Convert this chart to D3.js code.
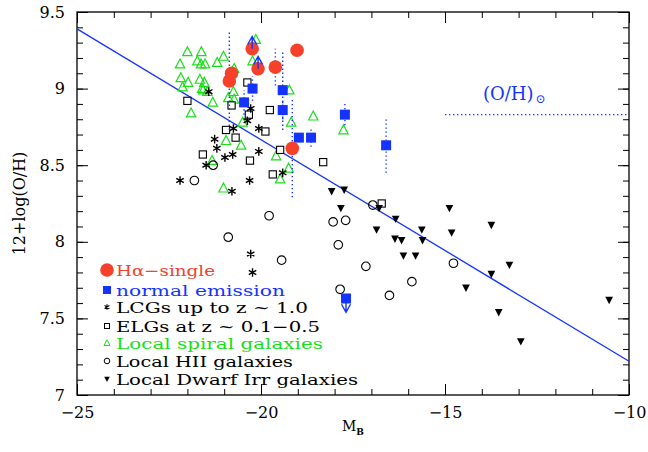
<!DOCTYPE html>
<html>
<head>
<meta charset="utf-8">
<script src="https://cdn.jsdelivr.net/npm/d3@7"></script>
<style>
  body { margin: 0; background: #fff; }
  text { font-family: "DejaVu Serif", serif; }
</style>
</head>
<body>
<div id="chart"></div>
<script>
// ---- data: [M_B, 12+log(O/H)] per sample ----
const haSingle = [[-20.24, 9.26], [-19.02, 9.25], [-20.08, 9.13], [-19.61, 9.14],
  [-20.80, 9.10], [-20.86, 9.05], [-19.15, 8.61]];
const normalEm = [[-20.23, 9.00], [-20.46, 8.91], [-19.41, 8.99], [-19.41, 8.86],
  [-18.97, 8.68], [-18.64, 8.68], [-17.72, 8.83], [-16.60, 8.63], [-17.69, 7.63]];
// error half-widths (dex) for the dotted bars: [M_B, O/H, err]
const errBars = [[-20.86, 9.05, 0.32], [-19.15, 8.61, 0.32], [-16.60, 8.63, 0.18],
  [-19.41, 8.99, 0.26], [-19.61, 9.14, 0.12], [-17.72, 8.83, 0.07], [-20.23, 9.00, 0.08],
  [-20.46, 8.91, 0.08], [-18.64, 8.68, 0.06], [-19.41, 8.86, 0.06]];
// limits: [M_B, from, to]
const limits = [[-20.24, 9.26, 9.34], [-20.08, 9.13, 9.21], [-17.69, 7.63, 7.54]];
const lcgs = [[-21.42, 8.98], [-20.28, 8.87], [-20.37, 8.79], [-20.75, 8.74], [-20.06, 8.74],
  [-21.26, 8.67], [-21.20, 8.61], [-20.77, 8.57], [-20.06, 8.59], [-20.98, 8.55],
  [-21.49, 8.50], [-22.20, 8.40], [-20.31, 8.40], [-20.79, 8.33], [-19.41, 8.45],
  [-20.28, 7.92], [-20.23, 7.80]];
const elgs = [[-20.37, 9.04], [-22.00, 8.92], [-20.80, 8.89], [-19.76, 8.86], [-20.33, 8.83],
  [-20.95, 8.73], [-20.69, 8.68], [-19.88, 8.72], [-21.58, 8.57], [-19.48, 8.60],
  [-20.30, 8.53], [-18.31, 8.52], [-19.68, 8.44], [-16.72, 8.25]];
const spirals = [[-22.00, 9.24], [-21.62, 9.24], [-21.02, 9.21], [-22.20, 9.16], [-21.73, 9.18],
  [-21.63, 9.16], [-21.52, 9.16], [-21.19, 9.17], [-22.18, 9.07], [-21.66, 9.06],
  [-21.98, 9.04], [-21.54, 9.04], [-22.13, 9.01], [-21.60, 9.00], [-21.57, 8.99],
  [-21.46, 8.98], [-21.31, 8.91], [-21.90, 8.84], [-20.73, 9.13], [-20.75, 8.98],
  [-20.89, 8.94], [-20.73, 8.93], [-20.14, 9.32], [-20.23, 9.18], [-20.50, 8.78],
  [-20.95, 8.66], [-20.54, 8.63], [-19.59, 8.56], [-19.23, 8.99], [-19.18, 8.78],
  [-18.58, 8.82], [-17.76, 8.73], [-21.33, 8.53], [-19.25, 8.48], [-19.48, 8.41],
  [-21.02, 8.35]];
const hii = [[-21.30, 8.50], [-21.81, 8.40], [-19.78, 8.17], [-20.89, 8.03], [-18.04, 8.13],
  [-17.70, 8.14], [-17.90, 7.98], [-16.96, 8.24], [-19.44, 7.88], [-17.15, 7.84],
  [-14.77, 7.86], [-15.90, 7.74], [-17.85, 7.69], [-16.51, 7.65]];
const dwarfs = [[-18.08, 8.33], [-17.74, 8.34], [-17.83, 8.22], [-16.79, 8.22], [-16.34, 8.15],
  [-16.86, 8.08], [-16.36, 8.02], [-16.18, 8.01], [-15.63, 8.08], [-15.61, 8.01],
  [-16.13, 7.91], [-15.80, 7.91], [-14.88, 8.22], [-14.82, 8.06], [-14.43, 7.70],
  [-13.74, 8.11], [-13.25, 7.85], [-13.74, 7.79], [-13.54, 7.54], [-12.94, 7.35],
  [-10.54, 7.62]];
const fitLine = [[-25, 9.39], [-10, 7.22]];
const solarOH = 8.83;
const solarRange = [-15, -10];
const legendLabels = ['H\u03b1\u2212single', 'normal emission', 'LCGs up to z ~ 1.0',
  'ELGs at z ~ 0.1\u22120.5', 'Local spiral galaxies', 'Local HII galaxies',
  'Local Dwarf Irr galaxies'];

// ---- layout ----
const W = 648, H = 452;
const m = { left: 77, top: 12, right: 19, bottom: 57 };
const iw = W - m.left - m.right, ih = H - m.top - m.bottom;
const BLUE = '#1433ff', RED = '#f5412a', GREEN = '#18e018';

const x = d3.scaleLinear().domain([-25, -10]).range([0, iw]);
const y = d3.scaleLinear().domain([7, 9.5]).range([ih, 0]);

const svg = d3.select('#chart').append('svg')
  .attr('width', W).attr('height', H);
const g = svg.append('g').attr('transform', `translate(${m.left},${m.top})`);

// ---- ticks (inward, on all four sides) ----
const xMinor = d3.range(-25, -9.99, 1), xMajor = [-25, -20, -15, -10];
const yMinor = d3.range(7, 9.501, 0.1), yMajor = [7, 7.5, 8, 8.5, 9, 9.5];

function tickAxis(axisFn, scale, vals, size, tr, labels) {
  const a = axisFn(scale).tickValues(vals).tickSizeInner(-size).tickSizeOuter(0);
  if (labels) a.tickPadding(12).tickFormat(d3.format('~g'));
  else a.tickFormat('');
  const ax = g.append('g').attr('transform', tr).call(a);
  ax.select('.domain').remove();
  ax.selectAll('line').attr('stroke', '#000').attr('stroke-width', 1);
  ax.selectAll('text').attr('font-size', 16).attr('fill', '#000')
    .style('font-family', '"DejaVu Serif", serif');
  return ax;
}
tickAxis(d3.axisBottom, x, xMinor, 6, `translate(0,${ih})`, false);
tickAxis(d3.axisBottom, x, xMajor, 11, `translate(0,${ih})`, true);
tickAxis(d3.axisTop, x, xMinor, 6, 'translate(0,0)', false);
tickAxis(d3.axisTop, x, xMajor, 11, 'translate(0,0)', false);
tickAxis(d3.axisLeft, y, yMinor, 6, 'translate(0,0)', false);
tickAxis(d3.axisLeft, y, yMajor, 11, 'translate(0,0)', true);
tickAxis(d3.axisRight, y, yMinor, 6, `translate(${iw},0)`, false);
tickAxis(d3.axisRight, y, yMajor, 11, `translate(${iw},0)`, false);

g.append('rect').attr('width', iw).attr('height', ih)
  .attr('fill', 'none').attr('stroke', '#000').attr('stroke-width', 1.3);

// ---- axis titles ----
svg.append('text')
  .attr('transform', `translate(25,${m.top + ih / 2}) rotate(-90)`)
  .attr('text-anchor', 'middle').attr('font-size', 16).text('12+log(O/H)');
const mb = svg.append('text').attr('x', m.left + iw / 2).attr('y', 431)
  .attr('text-anchor', 'middle').attr('font-size', 14);
mb.append('tspan').text('M');
mb.append('tspan').attr('font-size', 9).attr('font-weight', 'bold').attr('dy', 4).text('B');

// ---- regression line and solar value ----
g.append('line')
  .attr('x1', x(fitLine[0][0])).attr('y1', y(fitLine[0][1]))
  .attr('x2', x(fitLine[1][0])).attr('y2', y(fitLine[1][1]))
  .attr('stroke', BLUE).attr('stroke-width', 1.3);
g.append('line')
  .attr('x1', x(solarRange[0])).attr('x2', x(solarRange[1]))
  .attr('y1', y(solarOH)).attr('y2', y(solarOH))
  .attr('stroke', BLUE).attr('stroke-width', 1.4).attr('stroke-dasharray', '1.4,2.6');
const sol = svg.append('text').attr('x', 483).attr('y', 100)
  .attr('font-size', 18).attr('fill', BLUE);
sol.append('tspan').text('(O/H)');
sol.append('tspan').attr('font-size', 12).attr('dy', 3).attr('dx', 2).text('\u2299');

// ---- markers ----
function star(r) {
  const p = d3.path();
  for (let k = 0; k < 3; k++) {
    const a = Math.PI / 2 + k * Math.PI / 3;
    p.moveTo(-r * Math.cos(a), -r * Math.sin(a));
    p.lineTo(r * Math.cos(a), r * Math.sin(a));
  }
  return p.toString();
}
function triUp(s) { return `M0,${-s * 0.6}L${s * 0.55},${s * 0.45}L${-s * 0.55},${s * 0.45}Z`; }
function triDown(s) { return `M0,${s * 0.6}L${s * 0.55},${-s * 0.45}L${-s * 0.55},${-s * 0.45}Z`; }

function pts(data, cls) {
  return g.selectAll('.' + cls).data(data).join('g').attr('class', cls)
    .attr('transform', d => `translate(${x(d[0])},${y(d[1])})`);
}

pts(spirals, 'sp').append('path').attr('d', triUp(8.5))
  .attr('fill', 'none').attr('stroke', GREEN).attr('stroke-width', 1.2);
pts(elgs, 'elg').append('rect').attr('x', -3.6).attr('y', -3.6)
  .attr('width', 7.2).attr('height', 7.2)
  .attr('fill', '#fff').attr('stroke', '#000').attr('stroke-width', 1.1);
pts(hii, 'hii').append('circle').attr('r', 4.3)
  .attr('fill', 'none').attr('stroke', '#000').attr('stroke-width', 1.1);
pts(dwarfs, 'dw').append('path').attr('d', triDown(7)).attr('fill', '#000');
pts(lcgs, 'lcg').append('path').attr('d', star(4.3))
  .attr('stroke', '#000').attr('stroke-width', 1.4);

// dotted error bars
g.selectAll('.eb').data(errBars).join('line').attr('class', 'eb')
  .attr('x1', d => x(d[0])).attr('x2', d => x(d[0]))
  .attr('y1', d => y(d[1] - d[2])).attr('y2', d => y(d[1] + d[2]))
  .attr('stroke', BLUE).attr('stroke-width', 1.4).attr('stroke-dasharray', '1.4,2.6');

pts(normalEm, 'ne').append('rect').attr('x', -5).attr('y', -5)
  .attr('width', 10).attr('height', 10).attr('fill', BLUE);
pts(haSingle, 'ha').append('circle').attr('r', 6.8).attr('fill', RED);

// limit arrows
limits.forEach(d => {
  const x0 = x(d[0]), y0 = y(d[1]), y1 = y(d[2]);
  const dir = y1 < y0 ? 1 : -1;
  const p = d3.path();
  p.moveTo(x0, y0); p.lineTo(x0, y1);
  p.moveTo(x0 - 4.5, y1 + dir * 8); p.lineTo(x0, y1); p.lineTo(x0 + 4.5, y1 + dir * 8);
  g.append('path').attr('d', p.toString()).attr('fill', 'none')
    .attr('stroke', BLUE).attr('stroke-width', 1.4);
});

// ---- legend ----
const legColors = [RED, BLUE, '#000', '#000', GREEN, '#000', '#000'];
const legY = [270, 290, 307, 326, 343, 361, 379];
const legWidths = [99, 169, 192, 204, 207, 177, 242];
const leg = svg.append('g');
legendLabels.forEach((t, i) => {
  leg.append('text').attr('x', 116).attr('y', legY[i] + 6)
    .attr('font-size', 15.5).attr('fill', legColors[i])
    .attr('textLength', legWidths[i]).attr('lengthAdjust', 'spacingAndGlyphs')
    .text(t);
});
const lx = 107;
leg.append('circle').attr('cx', lx).attr('cy', legY[0]).attr('r', 6.8).attr('fill', RED);
leg.append('rect').attr('x', lx - 4).attr('y', legY[1] - 4).attr('width', 8).attr('height', 8).attr('fill', BLUE);
leg.append('path').attr('transform', `translate(${lx},${legY[2]})`).attr('d', star(2.8))
  .attr('stroke', '#000').attr('stroke-width', 1.1);
leg.append('rect').attr('x', lx - 2.5).attr('y', legY[3] - 2.5).attr('width', 5).attr('height', 5)
  .attr('fill', 'none').attr('stroke', '#000').attr('stroke-width', 1);
leg.append('path').attr('transform', `translate(${lx},${legY[4]})`).attr('d', triUp(5.5))
  .attr('fill', 'none').attr('stroke', GREEN).attr('stroke-width', 1);
leg.append('circle').attr('cx', lx).attr('cy', legY[5]).attr('r', 2.8)
  .attr('fill', 'none').attr('stroke', '#000').attr('stroke-width', 1);
leg.append('path').attr('transform', `translate(${lx},${legY[6]})`).attr('d', triDown(5)).attr('fill', '#000');
</script>
</body>
</html>
